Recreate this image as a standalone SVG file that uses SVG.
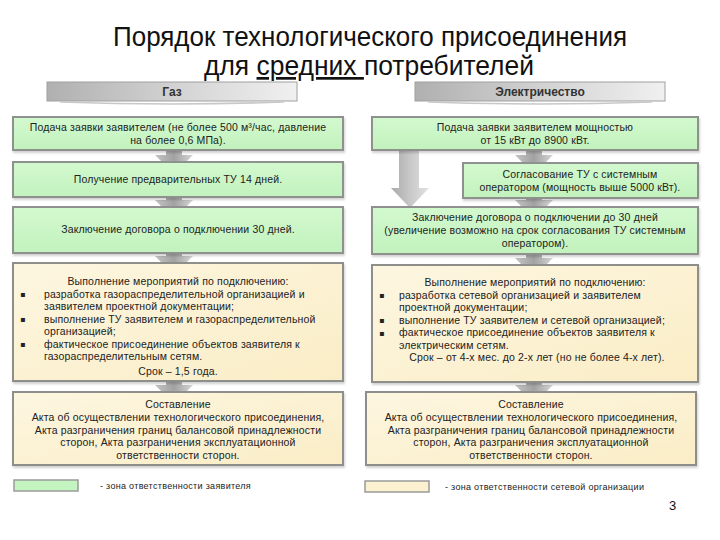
<svg xmlns="http://www.w3.org/2000/svg" width="720" height="540" viewBox="0 0 720 540">
<defs>
<linearGradient id="gGreen" x1="0" y1="0" x2="0" y2="1">
<stop offset="0" stop-color="#d3f9cf"/><stop offset="1" stop-color="#c2f2bd"/>
</linearGradient>
<linearGradient id="gBeige" x1="0" y1="0" x2="1" y2="1">
<stop offset="0" stop-color="#fdf6e0"/><stop offset="1" stop-color="#faedc6"/>
</linearGradient>
<linearGradient id="gHead" x1="0" y1="0" x2="1" y2="0">
<stop offset="0" stop-color="#b0b0b0"/><stop offset="0.6" stop-color="#d8d8d8"/><stop offset="1" stop-color="#f0f0f0"/>
</linearGradient>
<linearGradient id="gArrow" x1="0" y1="0" x2="1" y2="0">
<stop offset="0" stop-color="#c4c4c4"/><stop offset="0.5" stop-color="#a2a2a2"/><stop offset="1" stop-color="#d6d6d6"/>
</linearGradient>
<linearGradient id="gBig" x1="0" y1="0" x2="1" y2="0">
<stop offset="0" stop-color="#a9a9a9"/><stop offset="0.5" stop-color="#c8c8c8"/><stop offset="1" stop-color="#e2e2e2"/>
</linearGradient>
<filter id="sh" x="-5%" y="-10%" width="110%" height="130%">
<feDropShadow dx="1" dy="2" stdDeviation="1.2" flood-color="#000" flood-opacity="0.18"/>
</filter>
</defs>
<style>
.t{font-family:"Liberation Sans",Arial,sans-serif;font-size:10.5px;letter-spacing:0.15px;fill:#222;}
.c{text-anchor:middle;}
.g{fill:url(#gGreen);stroke:#8e918e;stroke-width:2;filter:url(#sh);}
.b{fill:url(#gBeige);stroke:#8e8e8a;stroke-width:2;filter:url(#sh);}
.h{fill:url(#gHead);stroke:#a0a0a0;stroke-width:1;}
.ht{font-family:"Liberation Sans",Arial,sans-serif;font-size:12px;font-weight:bold;fill:#333;text-anchor:middle;}
.bu{font-family:"DejaVu Sans",sans-serif;font-size:8px;fill:#222;}
.ar{fill:url(#gArrow);}
.lg{font-family:"Liberation Sans",Arial,sans-serif;font-size:9px;letter-spacing:0.3px;fill:#222;}
</style>
<rect width="720" height="540" fill="#ffffff"/>

<g id="title">
<text x="370" y="46" font-family="'Liberation Sans Narrow','Liberation Sans',Arial,sans-serif" font-size="27" fill="#111" text-anchor="middle" textLength="514" lengthAdjust="spacingAndGlyphs">Порядок технологического присоединения</text>
<text x="369" y="75" font-family="'Liberation Sans Narrow','Liberation Sans',Arial,sans-serif" font-size="27" fill="#111" text-anchor="middle" textLength="330" lengthAdjust="spacingAndGlyphs">для <tspan text-decoration="underline">средних </tspan>потребителей</text>
</g>

<g id="connectors">
<path class="ar" d="M166,148 H182 V155 H193 L174,174 L155,155 H166 Z"/>
<path class="ar" d="M166,195 H182 V200 H193 L174,219 L155,200 H166 Z"/>
<path class="ar" d="M166,251 H182 V256 H193 L174,275 L155,256 H166 Z"/>
<path class="ar" d="M166,379 H182 V385 H193 L174,404 L155,385 H166 Z"/>
<path class="ar" d="M526,148 H542 V155 H553 L534,174 L515,155 H526 Z"/>
<path class="ar" d="M526,196 H542 V200 H553 L534,219 L515,200 H526 Z"/>
<path class="ar" d="M526,252 H542 V258 H553 L534,277 L515,258 H526 Z"/>
<path class="ar" d="M526,380 H542 V385 H553 L534,404 L515,385 H526 Z"/>
<path fill="url(#gBig)" d="M399,149 H419 V188 H429 L410,208 L391,188 H399 Z"/>
</g>

<g id="head-gas">
<rect class="h" x="47" y="82" width="250" height="19"/>
<path d="M60,102 Q172,106 284,102" fill="none" stroke="#c8c8c8" stroke-width="1.5"/>
<text class="ht" x="172" y="96">Газ</text>
</g>
<g id="head-el">
<rect class="h" x="415" y="82" width="250" height="19"/>
<path d="M428,102 Q540,106 652,102" fill="none" stroke="#c8c8c8" stroke-width="1.5"/>
<text class="ht" x="540" y="96">Электричество</text>
</g>

<g id="gas-1">
<rect class="g" x="13" y="117" width="330" height="33"/>
<text class="t c" x="178" y="131">Подача заявки заявителем (не более 500 м³/час, давление</text>
<text class="t c" x="178" y="144">на более 0,6 МПа).</text>
</g>
<g id="gas-2">
<rect class="g" x="13" y="162" width="330" height="35"/>
<text class="t c" x="178" y="183">Получение предварительных ТУ 14 дней.</text>
</g>
<g id="gas-3">
<rect class="g" x="13" y="207" width="330" height="46"/>
<text class="t c" x="178" y="233">Заключение договора о подключении 30 дней.</text>
</g>
<g id="gas-4">
<rect class="b" x="13" y="263" width="330" height="118"/>
<text class="t c" x="178" y="285">Выполнение мероприятий по подключению:</text>
<text class="bu" x="20" y="297">▪</text>
<text class="t" x="44" y="297.5">разработка газораспределительной организацией и</text>
<text class="t" x="44" y="310">заявителем проектной документации;</text>
<text class="bu" x="20" y="322">▪</text>
<text class="t" x="44" y="322.5">выполнение ТУ заявителем и газораспределительной</text>
<text class="t" x="44" y="335">организацией;</text>
<text class="bu" x="20" y="347">▪</text>
<text class="t" x="44" y="347.5">фактическое присоединение объектов заявителя к</text>
<text class="t" x="44" y="360">газораспределительным сетям.</text>
<text class="t c" x="178" y="375">Срок – 1,5 года.</text>
</g>
<g id="gas-5">
<rect class="b" x="13" y="392" width="330" height="73"/>
<text class="t c" x="178" y="408">Составление</text>
<text class="t c" x="178" y="421">Акта об осуществлении технологического присоединения,</text>
<text class="t c" x="178" y="433.5">Акта разграничения границ балансовой принадлежности</text>
<text class="t c" x="178" y="446">сторон, Акта разграничения эксплуатационной</text>
<text class="t c" x="178" y="458.5">ответственности сторон.</text>
</g>

<g id="el-1">
<rect class="g" x="372" y="117" width="326" height="33"/>
<text class="t c" x="535" y="131">Подача заявки заявителем мощностью</text>
<text class="t c" x="535" y="144">от 15 кВт до 8900 кВт.</text>
</g>
<g id="el-2">
<rect class="g" x="463" y="163" width="235" height="35"/>
<text class="t c" x="580" y="178">Согласование ТУ с системным</text>
<text class="t c" x="580" y="191">оператором (мощность выше 5000 кВт).</text>
</g>
<g id="el-3">
<rect class="g" x="372" y="207" width="326" height="47"/>
<text class="t c" x="535" y="221">Заключение договора о подключении до 30 дней</text>
<text class="t c" x="535" y="234">(увеличение возможно на срок согласования ТУ системным</text>
<text class="t c" x="535" y="247">оператором).</text>
</g>
<g id="el-4">
<rect class="b" x="372" y="265" width="326" height="117"/>
<text class="t c" x="535" y="286">Выполнение мероприятий по подключению:</text>
<text class="bu" x="379" y="298">▪</text>
<text class="t" x="399" y="298.5">разработка сетевой организацией и заявителем</text>
<text class="t" x="399" y="311">проектной документации;</text>
<text class="bu" x="379" y="323">▪</text>
<text class="t" x="399" y="323.5">выполнение ТУ заявителем и сетевой организацией;</text>
<text class="bu" x="379" y="336">▪</text>
<text class="t" x="399" y="336">фактическое присоединение объектов заявителя к</text>
<text class="t" x="399" y="348.5">электрическим сетям.</text>
<text class="t c" x="537" y="361">Срок – от 4-х мес. до 2-х лет (но не более 4-х лет).</text>
</g>
<g id="el-5">
<rect class="b" x="366" y="392" width="330" height="73"/>
<text class="t c" x="531" y="408">Составление</text>
<text class="t c" x="531" y="421">Акта об осуществлении технологического присоединения,</text>
<text class="t c" x="531" y="433.5">Акта разграничения границ балансовой принадлежности</text>
<text class="t c" x="531" y="446">сторон, Акта разграничения эксплуатационной</text>
<text class="t c" x="531" y="458.5">ответственности сторон.</text>
</g>

<g id="legend-applicant">
<rect x="14" y="480" width="64" height="11" fill="#c4f5c0" stroke="#9a9a9a" stroke-width="1.5"/>
<text class="lg" x="100" y="489">- зона ответственности заявителя</text>
</g>
<g id="legend-network">
<rect x="365" y="481" width="64" height="11" fill="#fbf0cf" stroke="#9a9a9a" stroke-width="1.5"/>
<text class="lg" x="445" y="490">- зона ответственности  сетевой организации</text>
</g>
<text id="page" x="669" y="510" font-family="'Liberation Sans',Arial,sans-serif" font-size="13" fill="#111">3</text>
</svg>
